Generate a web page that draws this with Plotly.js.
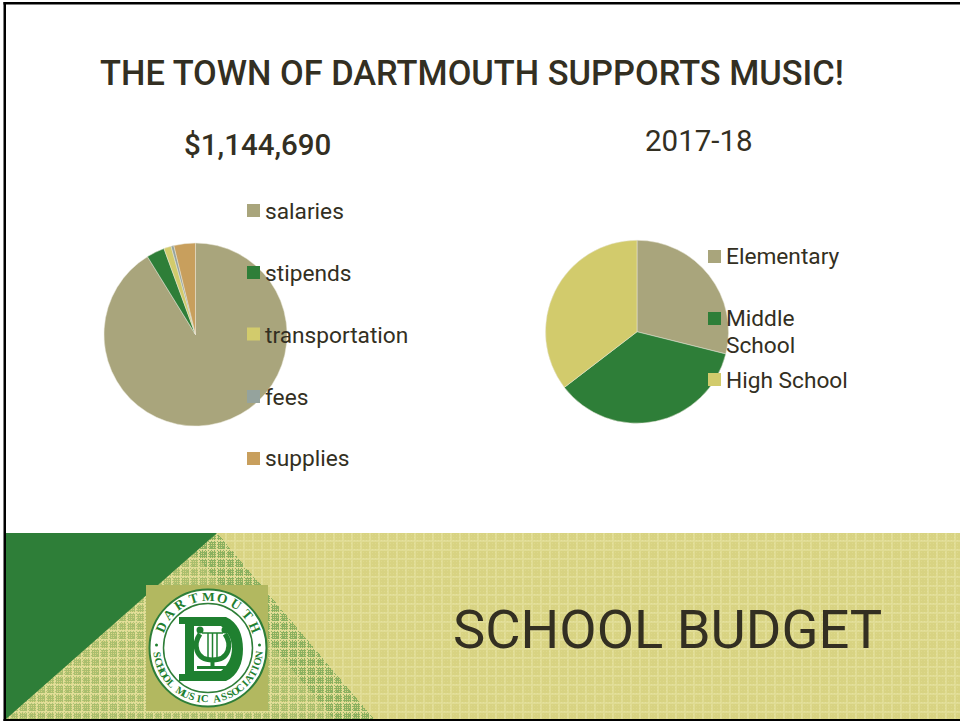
<!DOCTYPE html>
<html><head><meta charset="utf-8">
<script src="https://cdn.plot.ly/plotly-3.0.1.min.js"></script>
<style>html,body{margin:0;padding:0;background:#fff;overflow:hidden}#c{width:960px;height:721px}</style>
</head><body><div id="c"></div><script>
const W=960,H=721;
const FONT='Roboto, "Liberation Sans", Arial, sans-serif';
const INK='#332f22';

const mainTitle='THE TOWN OF DARTMOUTH SUPPORTS MUSIC!';
const leftTitle='$1,144,690';
const rightTitle='2017-18';
const footerText='SCHOOL BUDGET';

const costCategories=['salaries','stipends','transportation','fees','supplies'];
const costValues=[91.2,3.2,1.3,0.5,3.8];
const costColors=['#a9a57c','#2e7e38','#d2cb6c','#95a39d','#c89f5d'];

const schoolCategories=['Elementary','Middle School','High School'];
const schoolValues=[28.9,35.7,35.4];
const schoolColors=['#a9a57c','#2e7e38','#d2cb6c'];
const schoolLegendLines=[['Elementary'],['Middle','School'],['High School']];

const px=x=>x/W, py=y=>1-y/H;
const pt=(x,y)=>px(x).toFixed(5)+','+py(y).toFixed(5);
const base={xref:'paper',yref:'paper'};
function rect(x0,y0,x1,y1,fill,layer){return {...base,type:'rect',x0:px(x0),x1:px(x1),y0:py(y1),y1:py(y0),fillcolor:fill,line:{width:0},layer:layer||'below'};}
function circ(cx,cy,r,fill,lineColor,lw){return {...base,type:'circle',x0:px(cx-r),x1:px(cx+r),y0:py(cy+r),y1:py(cy-r),fillcolor:fill,line:{width:lw||0,color:lineColor||fill},layer:'below'};}
function pathOf(cmds){return cmds.map(c=>c[0]+' '+c.slice(1).reduce((a,v,i,arr)=>{if(i%2===0)a.push(pt(arr[i],arr[i+1]));return a;},[]).join(' ')).join(' ');}
function pathShape(cmds,fill,lineColor,lw){return {...base,type:'path',path:pathOf(cmds),fillcolor:fill||'rgba(0,0,0,0)',line:{width:lw||0,color:lineColor||'rgba(0,0,0,0)'},layer:'below'};}

/* banner texture */
function bannerTexture(){
  const cv=document.createElement('canvas');cv.width=W;cv.height=H;
  const ctx=cv.getContext('2d');const im=ctx.createImageData(W,H);
  for(let y=533;y<719;y++){for(let x=6;x<W;x++){
    const i=(y*W+x)*4;
    let r=216,g=211,b=130;
    const gx=x%9,gy=y%9;
    if(gx<2||gy<2){r=224;g=220;b=148;}
    if(x%3===0&&y%3===0){r+=5;g+=5;b+=10;}
    const right=217+(y-533)*(373-217)/185;
    if(x<right){
      const d=(right-x);
      const edge=d<40?0.5:0.3;
      if(!(gx<2||gy<2)&&(x%2===0||y%2===0)){r=r*(1-edge)+60*edge;g=g*(1-edge)+140*edge;b=b*(1-edge)+60*edge;}
      else if(x%3===1&&y%3===1){r=r*(1-edge)+60*edge;g=g*(1-edge)+140*edge;b=b*(1-edge)+60*edge;}
    }
    im.data[i]=r;im.data[i+1]=g;im.data[i+2]=b;im.data[i+3]=255;
  }}
  ctx.putImageData(im,0,0);
  return cv.toDataURL('image/png');
}

const LOGO='#1f8030';
const shapes=[
  pathShape([['M',6,533],['L',217,533],['L',6,719],['Z']],'#2e7e38'),
  rect(146,585,268,711,'#b2b860'),
  circ(208,648,58.5,'#ffffff','#2e7e38',2),
  circ(208,648,44.5,'rgba(0,0,0,0)','#2e7e38',1.5),
  /* D */
  pathShape([['M',179,617],['L',226,617],['C',238,622,243,635,243,649],['C',243,663,238,676,226,681],['L',179,681],['L',179,674],['L',185,674],['L',185,624],['L',179,624],['Z']],LOGO),
  pathShape([['M',194,626],['L',221,626],['C',228,632,232,640,232,648],['C',232,657,228,665,221,671],['L',194,671],['Z']],'#ffffff'),
  /* lyre */
  pathShape([['M',200,634],['C',193,644,195,660,212.5,660],['C',230,660,232,644,225,634]],null,LOGO,5),
  circ(200,630,3.5,LOGO),circ(225,630,3.5,LOGO),
  pathShape([['M',202,633],['L',223,633]],null,LOGO,1.5),
  pathShape([['M',208,633],['L',208,660]],null,LOGO,1.5),
  pathShape([['M',212.5,633],['L',212.5,660]],null,LOGO,1.5),
  pathShape([['M',217,633],['L',217,660]],null,LOGO,1.5),
  pathShape([['M',212.5,660],['L',212.5,668]],null,LOGO,4),
  pathShape([['M',197,667.5],['L',228,667.5]],null,LOGO,3),
  circ(156.5,645,1.5,LOGO),circ(259.5,645,1.5,LOGO),
  /* frame */
  rect(3.5,2,6,721,'#000000','above'),
  rect(3.5,2,960,4.5,'#000000','above'),
  rect(3.5,719,960,721,'#000000','above')
];

const annotations=[];
function note(text,x,y,size,opts){annotations.push({...base,x:px(x),y:py(y),text,showarrow:false,xanchor:'left',yanchor:'middle',align:'left',font:{family:FONT,size,color:INK},...(opts||{})});}

note(leftTitle,257.5,145,29.5,{xanchor:'center',font:{family:FONT,size:29.5,color:INK,weight:500}});
note(rightTitle,699,141,29.5,{xanchor:'center'});
note(footerText,667,629,54.3,{xanchor:'center'});

const costY=[211.5,273.5,335.5,397.5,458.5], costSq=[204,266,327.5,390,452];
costCategories.forEach((c,i)=>{
  shapes.push(rect(247,costSq[i],260,costSq[i]+13,costColors[i],'above'));
  note(c,263,costY[i],22.7);
});
const schoolY=[[256.5],[318.5,345.5],[380.5]], schoolSq=[250,312,373];
schoolLegendLines.forEach((lines,i)=>{
  shapes.push(rect(708,schoolSq[i],721,schoolSq[i]+13,schoolColors[i],'above'));
  lines.forEach((t,j)=>note(t,724,schoolY[i][j],22.7));
});

/* logo ring lettering as real text */
function arcText(str,cx,cy,r,startDeg,endDeg,size,bottom,color,family){
  const n=str.length;
  for(let i=0;i<n;i++){
    if(str[i]===' ')continue;
    const t=n>1?i/(n-1):0;
    const deg=startDeg+(endDeg-startDeg)*t;
    const a=deg*Math.PI/180;
    const x=cx+r*Math.sin(a), y=cy-r*Math.cos(a);
    annotations.push({...base,x:px(x),y:py(y),text:str[i],showarrow:false,xanchor:'center',yanchor:'middle',
      textangle:bottom?deg-180:deg,font:{family,size,color,weight:'bold'},borderpad:0});
  }
}
arcText('DARTMOUTH',208,648,51.5,-66,66,13.5,false,LOGO,'"Liberation Serif", serif');
arcText('SCHOOL MUSIC ASSOCIATION',208,648,51,262,98,10.5,true,LOGO,'"Liberation Serif", serif');

const data=[
 {type:'pie',name:'Budget',labels:costCategories,values:costValues,marker:{colors:costColors,line:{color:'#e8e6d8',width:0.5}},
  sort:false,direction:'clockwise',rotation:0,textinfo:'none',showlegend:false,hole:0,
  domain:{x:[px(104),px(287)],y:[py(426),py(243)]}},
 {type:'pie',name:'Music',labels:schoolCategories,values:schoolValues,marker:{colors:schoolColors,line:{color:'#e8e6d8',width:0.5}},
  sort:false,direction:'clockwise',rotation:0,textinfo:'none',showlegend:false,
  domain:{x:[px(545.5),px(728.5)],y:[py(423.5),py(240)]}}
];
const layout={width:W,height:H,margin:{l:0,r:0,t:0,b:0},paper_bgcolor:'#ffffff',showlegend:false,
 title:{text:mainTitle,x:472/W,xanchor:'center',y:py(73),yanchor:'middle',yref:'paper',font:{family:FONT,size:34.4,color:INK,weight:500}},
 shapes,annotations,
 images:[{source:bannerTexture(),xref:'paper',yref:'paper',x:0,y:1,sizex:1,sizey:1,sizing:'stretch',xanchor:'left',yanchor:'top',layer:'below'}]};
Plotly.newPlot('c',data,layout,{displayModeBar:false,staticPlot:true});
</script></body></html>
